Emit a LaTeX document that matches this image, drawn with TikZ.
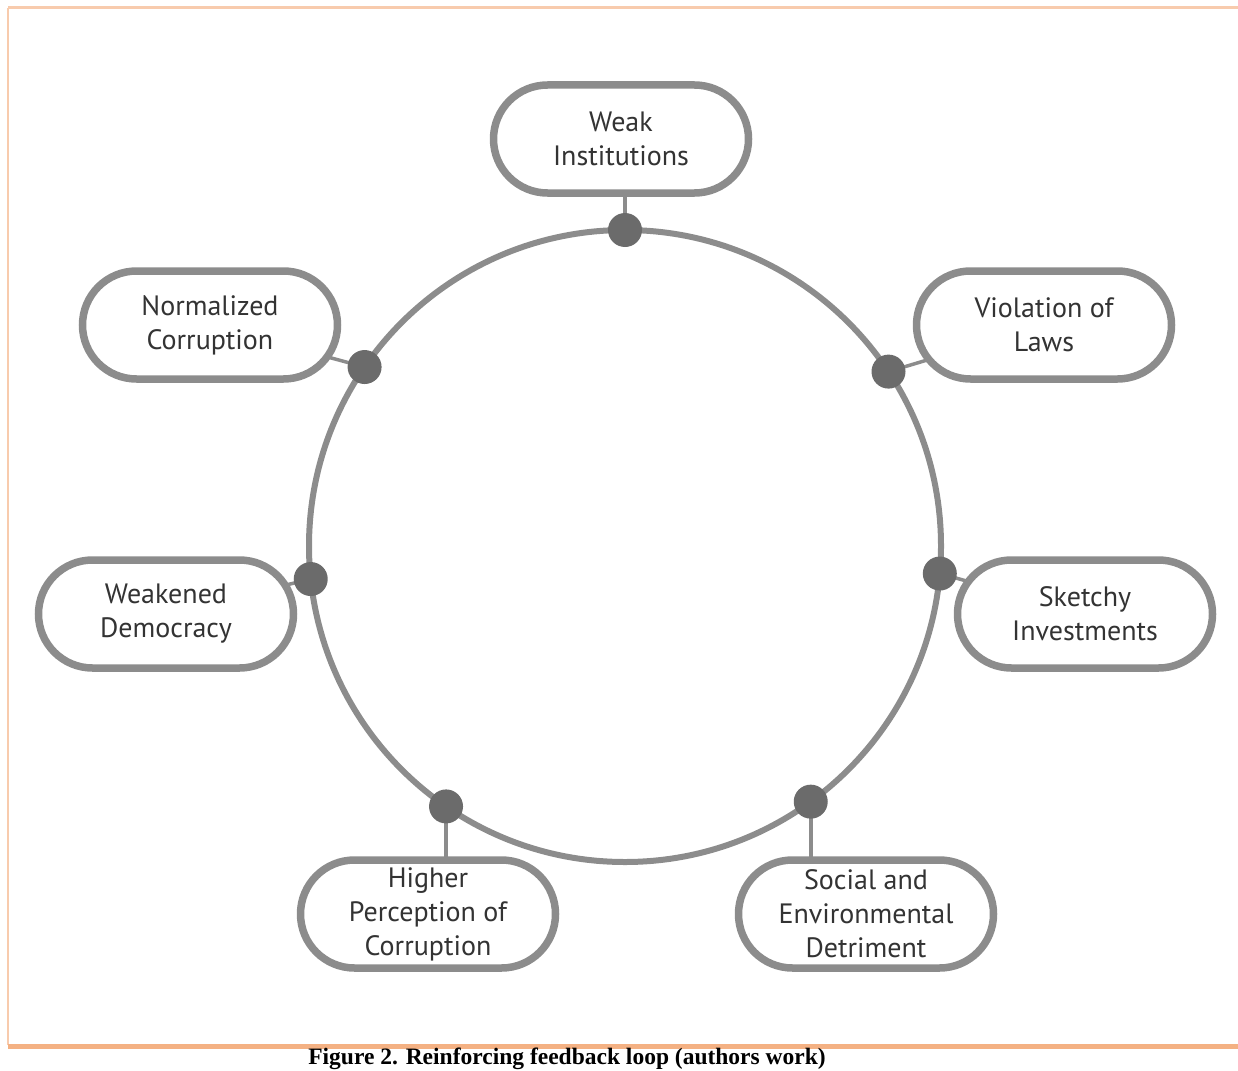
\documentclass[tikz,border=0pt]{standalone}
\usepackage{fontspec}
\setmainfont{PT Sans}
\newfontfamily\capfont{Liberation Serif}
\usetikzlibrary{backgrounds}
\definecolor{loopgray}{HTML}{8C8C8C}
\definecolor{dotgray}{HTML}{6B6B6B}
\definecolor{txtgray}{HTML}{333333}
\definecolor{frameline}{HTML}{F8CBAD}
\definecolor{rule}{HTML}{F4B183}
\tikzset{
  x=1pt, y=1pt,
  factor/.style={draw=loopgray, line width=7.5pt, fill=white, rounded corners=54pt,
    minimum width=255pt, minimum height=108pt, align=center, text=txtgray,
    font=\fontsize{28}{34}\selectfont},
  dot/.style={circle, fill=dotgray, minimum size=34pt, inner sep=0pt},
  stub/.style={loopgray, line width=3.5pt},
}

\begin{document}
\begin{tikzpicture}
  \useasboundingbox (0,0) rectangle (1238,-1070);
  \clip (0,0) rectangle (1238,-1070);
  % page frame
  \draw[frameline, line width=3pt] (8,-8) -- (1238,-8);
  \draw[frameline, line width=2pt] (8,-8) -- (8,-1045);
  \draw[rule, line width=5pt] (8,-1046) -- (1238,-1046);

  % points on the loop
  \coordinate (c) at (625,-546);
  \node[dot] (p1) at ([shift={(90:316)}]c) {};
  \node[dot] (p2) at ([shift={(33.5:316)}]c) {};
  \node[dot] (p3) at ([shift={(-5:316)}]c) {};
  \node[dot] (p4) at ([shift={(-54:316)}]c) {};
  \node[dot] (p5) at ([shift={(235.5:316)}]c) {};
  \node[dot] (p6) at ([shift={(186:316)}]c) {};
  \node[dot] (p7) at ([shift={(145.5:316)}]c) {};

  % factors
  \node[factor] (weak) at (621,-139) {Weak\\Institutions};
  \node[factor] (laws) at (1044,-325) {Violation of\\Laws};
  \node[factor] (sketchy) at (1085,-614) {Sketchy\\Investments};
  \node[factor] (social) at (866,-914) {Social and\\Environmental\\Detriment};
  \node[factor] (higher) at (428,-914) {Higher\\Perception of\\Corruption};
  \node[factor] (weakened) at (166,-614) {Weakened\\Democracy};
  \node[factor] (normalized) at (210,-325) {Normalized\\Corruption};

  \begin{pgfonlayer}{background}
    \draw[loopgray, line width=6pt] (c) circle (316);
    \draw[stub] (p1.center) -- (p1 |- weak.center);
    \draw[stub] (p2.center) -- (laws.center);
    \draw[stub] (p3.center) -- (sketchy.center);
    \draw[stub] (p4.center) -- (p4 |- social.center);
    \draw[stub] (p5.center) -- (p5 |- higher.center);
    \draw[stub] (p6.center) -- (weakened.center);
    \draw[stub] (p7.center) -- (normalized.center);
  \end{pgfonlayer}

  \node[anchor=base, font=\capfont\bfseries\fontsize{23.5}{26}\selectfont] (caption)
    at (567,-1064) {Figure 2. Reinforcing feedback loop (authors work)};
\end{tikzpicture}
\end{document}
